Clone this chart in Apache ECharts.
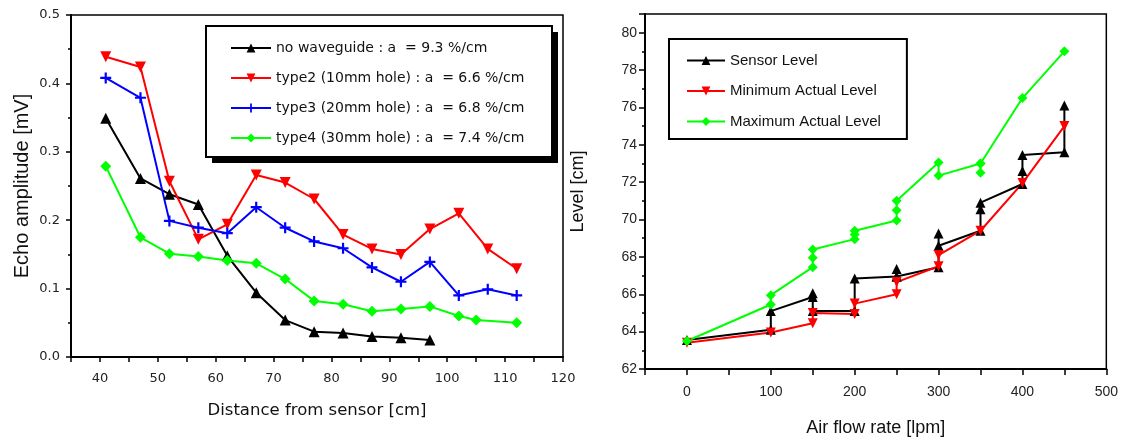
<!DOCTYPE html>
<html>
<head>
<meta charset="utf-8">
<script src="https://cdn.jsdelivr.net/npm/echarts@6/dist/echarts.min.js"></script>
<style>
  html, body { margin: 0; padding: 0; background: #fff; }
  #main { width: 1121px; height: 442px; }
</style>
</head>
<body>
<div id="main"></div>
<script>
// left panel: echo amplitude vs distance
const distCm = [41, 47, 52, 57, 62, 67, 72, 77, 82, 87, 92, 97, 102, 107, 112];
const noWaveguide = [0.349, 0.261, 0.238, 0.223, 0.148, 0.094, 0.054, 0.037, 0.035, 0.030, 0.028, 0.025];
const type2 = [0.439, 0.424, 0.257, 0.172, 0.194, 0.266, 0.255, 0.231, 0.179, 0.158, 0.150, 0.187, 0.210, 0.158, 0.129];
const type3 = [0.408, 0.379, 0.199, 0.189, 0.181, 0.219, 0.189, 0.169, 0.159, 0.131, 0.110, 0.139, 0.090, 0.099, 0.090];
const type4Dist = [41, 47, 52, 57, 62, 67, 72, 77, 82, 87, 92, 97, 102, 105, 112];
const type4 = [0.279, 0.175, 0.151, 0.147, 0.141, 0.137, 0.114, 0.082, 0.077, 0.067, 0.070, 0.074, 0.060, 0.054, 0.050];
const leftNames = [
  'no waveguide : a  = 9.3 %/cm',
  'type2 (10mm hole) : a  = 6.6 %/cm',
  'type3 (20mm hole) : a  = 6.8 %/cm',
  'type4 (30mm hole) : a  = 7.4 %/cm'
];

// right panel: level vs air flow rate
const sensorFlow = [0, 100, 100, 150, 150, 150, 200, 200, 250, 250, 250, 300, 300, 300, 350, 350, 350, 400, 400, 400, 450, 450];
const sensorLevel = [63.55, 64.1, 65.1, 65.85, 66.05, 65.1, 65.1, 66.85, 66.95, 67.35, 66.95, 67.45, 69.25, 68.6, 69.4, 70.55, 70.9, 71.9, 72.6, 73.45, 73.6, 76.1];
const minFlow = [0, 100, 150, 150, 200, 200, 250, 250, 300, 300, 350, 400, 450];
const minLevel = [63.4, 63.95, 64.45, 65.0, 64.95, 65.5, 66.0, 66.65, 67.5, 68.1, 69.4, 71.95, 75.0];
const maxFlow = [0, 100, 100, 150, 150, 150, 200, 200, 200, 250, 250, 250, 300, 300, 350, 350, 350, 400, 450];
const maxLevel = [63.5, 65.45, 65.95, 67.45, 67.95, 68.4, 68.95, 69.2, 69.4, 69.95, 70.5, 71.0, 73.05, 72.35, 73.0, 72.5, 73.0, 76.5, 79.0];
const rightNames = ['Sensor Level', 'Minimum Actual Level', 'Maximum Actual Level'];

const plusPath = 'path://M4,0L6,0L6,4L10,4L10,6L6,6L6,10L4,10L4,6L0,6L0,4L4,4Z';

function pairs(xs, ys) {
  return ys.map((v, i) => [xs[i], v]);
}

const leftFont = 'DejaVu Sans';
const rightFont = 'Liberation Sans';

function lineSeries(name, data, color, symbol, size, xIdx, rot) {
  return {
    name: name,
    type: 'line',
    xAxisIndex: xIdx,
    yAxisIndex: xIdx,
    data: data,
    symbol: symbol,
    symbolSize: size,
    symbolRotate: rot || 0,
    lineStyle: { color: color, width: 2 },
    itemStyle: { color: color },
    z: 3
  };
}

const chart = echarts.init(document.getElementById('main'), null, { renderer: 'canvas' });

const option = {
  animation: false,
  backgroundColor: '#fff',
  // legend frame of the left panel, with its solid drop shadow
  graphic: [
    { type: 'rect', left: 212, top: 32, shape: { width: 346, height: 131 }, style: { fill: '#000' }, z: 5 },
    { type: 'rect', left: 205, top: 25, shape: { width: 346, height: 131 }, style: { fill: '#fff', stroke: '#000', lineWidth: 2 }, z: 6 }
  ],
  grid: [
    { left: 71, top: 15, right: 558, bottom: 85, show: true, borderColor: '#000', borderWidth: 1.5 },
    { left: 645, top: 14, right: 14, bottom: 73, show: true, borderColor: '#000', borderWidth: 1.5 }
  ],
  legend: [
    {
      data: leftNames,
      left: 206,
      top: 26,
      z: 10,
      orient: 'vertical',
      itemWidth: 40,
      itemHeight: 11,
      itemGap: 16,
      padding: [15, 24, 12, 24],
      textStyle: { fontFamily: leftFont, fontSize: 14, color: '#111' }
    },
    {
      data: rightNames,
      left: 669,
      top: 39,
      orient: 'vertical',
      itemWidth: 38,
      itemHeight: 11,
      itemGap: 15.5,
      padding: [14, 26, 10, 17],
      backgroundColor: '#fff',
      borderColor: '#000',
      borderWidth: 2,
      borderRadius: 0,
      textStyle: { fontFamily: rightFont, fontSize: 15, color: '#111' }
    }
  ],
  xAxis: [
    {
      gridIndex: 0,
      type: 'value',
      min: 35,
      max: 120,
      interval: 5,
      name: 'Distance from sensor [cm]',
      nameLocation: 'middle',
      nameGap: 45,
      nameTextStyle: { fontFamily: leftFont, fontSize: 16.5, color: '#111' },
      axisLine: { onZero: false, lineStyle: { color: '#000', width: 2 } },
      axisTick: { length: 5, lineStyle: { color: '#000', width: 1.5 } },
      axisLabel: {
        fontFamily: leftFont, fontSize: 13, color: '#222', margin: 15,
        formatter: v => (v % 10 === 0 ? String(v) : '')
      },
      splitLine: { show: false }
    },
    {
      gridIndex: 1,
      type: 'value',
      min: -50,
      max: 500,
      interval: 50,
      name: 'Air flow rate [lpm]',
      nameLocation: 'middle',
      nameGap: 50,
      nameTextStyle: { fontFamily: rightFont, fontSize: 18, color: '#111' },
      axisLine: { onZero: false, lineStyle: { color: '#000', width: 2 } },
      axisTick: { length: 6, lineStyle: { color: '#000', width: 1.5 } },
      axisLabel: {
        fontFamily: rightFont, fontSize: 14, color: '#222', margin: 16,
        formatter: v => (v % 100 === 0 ? String(v) : '')
      },
      splitLine: { show: false }
    }
  ],
  yAxis: [
    {
      gridIndex: 0,
      type: 'value',
      min: 0,
      max: 0.5,
      interval: 0.1,
      name: 'Echo amplitude [mV]',
      nameLocation: 'middle',
      nameGap: 39,
      nameTextStyle: { fontFamily: rightFont, fontSize: 20, color: '#111' },
      axisLine: { show: true, onZero: false, lineStyle: { color: '#000', width: 2 } },
      axisTick: { show: true, length: 5, lineStyle: { color: '#000', width: 1.5 } },
      minorTick: { show: true, splitNumber: 2, length: 3, lineStyle: { color: '#000', width: 1.5 } },
      axisLabel: {
        fontFamily: leftFont, fontSize: 13, color: '#222', margin: 11,
        formatter: v => v.toFixed(1)
      },
      splitLine: { show: false }
    },
    {
      gridIndex: 1,
      type: 'value',
      min: 62,
      max: 81,
      interval: 2,
      name: 'Level [cm]',
      nameLocation: 'middle',
      nameGap: 58,
      nameTextStyle: { fontFamily: rightFont, fontSize: 18, color: '#111' },
      axisLine: { show: true, onZero: false, lineStyle: { color: '#000', width: 2 } },
      axisTick: { show: true, length: 6, lineStyle: { color: '#000', width: 1.5 } },
      minorTick: { show: true, splitNumber: 2, length: 3, lineStyle: { color: '#000', width: 1.5 } },
      axisLabel: {
        fontFamily: rightFont, fontSize: 14, color: '#222', margin: 8,
        formatter: v => (v % 2 === 0 ? String(v) : '')
      },
      splitLine: { show: false }
    }
  ],
  series: [
    lineSeries(leftNames[0], pairs(distCm, noWaveguide), '#000000', 'triangle', 11, 0),
    lineSeries(leftNames[1], pairs(distCm, type2), '#ff0000', 'triangle', 11, 0, 180),
    lineSeries(leftNames[2], pairs(distCm, type3), '#0000ff', plusPath, 11, 0),
    lineSeries(leftNames[3], pairs(type4Dist, type4), '#00ff00', 'diamond', 11, 0),
    lineSeries(rightNames[0], pairs(sensorFlow, sensorLevel), '#000000', 'triangle', 10, 1),
    lineSeries(rightNames[1], pairs(minFlow, minLevel), '#ff0000', 'triangle', 10, 1, 180),
    lineSeries(rightNames[2], pairs(maxFlow, maxLevel), '#00ff00', 'diamond', 10, 1)
  ]
};

chart.setOption(option);
</script>
</body>
</html>
